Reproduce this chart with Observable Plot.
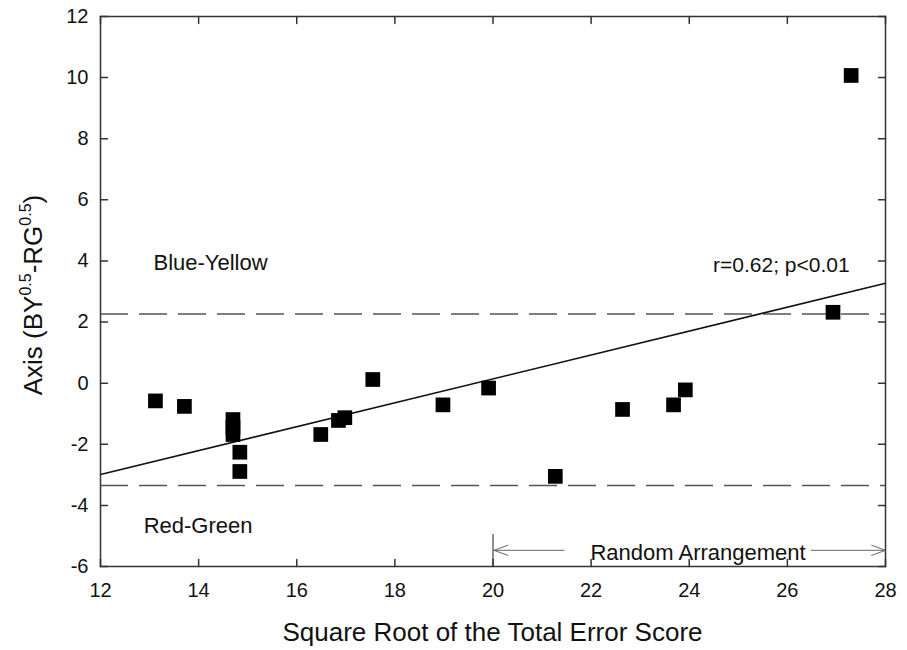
<!DOCTYPE html>
<html><head><meta charset="utf-8">
<script src="https://cdn.jsdelivr.net/npm/d3@7"></script>
<script src="https://cdn.jsdelivr.net/npm/@observablehq/plot@0.6"></script>
<style>body{margin:0;background:#fff;} #chart svg{display:block;}</style>
</head><body><div id="chart"></div>
<script>
// Data
const errorScore = [13.12, 13.71, 14.70, 14.70, 14.70, 14.84, 14.84, 16.49, 16.85, 16.98, 17.55, 18.98, 19.91, 21.27, 22.64, 23.68, 23.92, 26.93, 27.30];
const axisValue  = [-0.58, -0.76, -1.19, -1.45, -1.68, -2.26, -2.89, -1.68, -1.22, -1.13, 0.12, -0.71, -0.16, -3.05, -0.86, -0.71, -0.22, 2.32, 10.07];
const fitX = [12, 28];
const fitY = [-2.99, 3.27];
const thresholds = [2.26, -3.35];
const xTicks = [12, 14, 16, 18, 20, 22, 24, 26, 28];
const yTicks = [-6, -4, -2, 0, 2, 4, 6, 8, 10, 12];
const regionLabels = ["Blue-Yellow", "Red-Green"];
const regionX = [13.08, 12.88];
const regionY = [3.92, -4.66];
const statLabel = ["r=0.62; p<0.01"];
const statX = [27.27];
const statY = [3.85];
const randomLabel = ["Random Arrangement"];
const randomX = [24.18];
const randomY = [-5.57];
const arrowX1 = [21.45, 26.49];
const arrowX2 = [20.02, 28.0];
const arrowY = [-5.47, -5.47];
const bracketX = [20];
const bracketY1 = [-6];
const bracketY2 = [-4.95];

const points = errorScore.map((x, i) => ({x, y: axisValue[i]}));
const fit = fitX.map((x, i) => ({x, y: fitY[i]}));
const arrows = arrowX1.map((x1, i) => ({x1, x2: arrowX2[i], y: arrowY[i]}));
const regions = regionLabels.map((t, i) => ({t, x: regionX[i], y: regionY[i]}));
const bracket = bracketX.map((x, i) => ({x, y1: bracketY1[i], y2: bracketY2[i]}));

const tickShape = {draw(ctx, l) { ctx.moveTo(0, 0); ctx.lineTo(0, -l); }};
const tickOpts = {length: 7, anchor: "start", shape: tickShape, stroke: "#333", strokeWidth: 1.5};

const W = 907, H = 650;
const plot = Plot.plot({
  width: W, height: H,
  marginLeft: 100, marginRight: 22, marginTop: 16, marginBottom: 84,
  style: {fontFamily: "'Liberation Sans', Arial, sans-serif", color: "#111", background: "white"},
  x: {domain: [12, 28]},
  y: {domain: [-6, 12]},
  marks: [
    Plot.ruleY(thresholds, {stroke: "#555", strokeWidth: 1.5, strokeDasharray: "28,11"}),
    Plot.line(fit, {x: "x", y: "y", stroke: "#111", strokeWidth: 1.6}),
    Plot.dot(points, {x: "x", y: "y", symbol: "square", r: 8.3, fill: "#000", stroke: "none"}),
    Plot.ruleX(bracket, {x: "x", y1: "y1", y2: "y2", stroke: "#444", strokeWidth: 1.2}),
    Plot.arrow(arrows, {x1: "x1", x2: "x2", y1: "y", y2: "y", stroke: "#666", strokeWidth: 1, headLength: 22, headAngle: 40}),
    Plot.text(regions, {x: "x", y: "y", text: "t", textAnchor: "start", fontSize: 22, fill: "#111"}),
    Plot.text(statLabel, {x: () => statX[0], y: () => statY[0], text: d => d, textAnchor: "end", fontSize: 21, fill: "#111"}),
    Plot.text(randomLabel, {x: () => randomX[0], y: () => randomY[0], text: d => d, textAnchor: "middle", fontSize: 22, fill: "#111"}),
    Plot.axisX({ticks: xTicks, tickSize: 0, tickPadding: 16, fontSize: 20, label: null, tickFormat: d => String(d)}),
    Plot.axisY({ticks: yTicks, tickSize: 0, tickPadding: 12, fontSize: 20, label: null, tickFormat: d => String(d)}),
    Plot.vector(xTicks, {x: d => d, frameAnchor: "bottom", rotate: 0, ...tickOpts}),
    Plot.vector(xTicks, {x: d => d, frameAnchor: "top", rotate: 180, ...tickOpts}),
    Plot.vector(yTicks, {y: d => d, frameAnchor: "left", rotate: 90, ...tickOpts}),
    Plot.vector(yTicks, {y: d => d, frameAnchor: "right", rotate: -90, ...tickOpts}),
    Plot.frame({stroke: "#333", strokeWidth: 1.5})
  ]
});
document.getElementById("chart").appendChild(plot);

const svg = d3.select(plot);
const xr = plot.scale("x").range;
svg.append("text")
  .attr("x", (xr[0] + xr[1]) / 2).attr("y", H - 9)
  .attr("text-anchor", "middle")
  .attr("font-family", "'Liberation Sans', Arial, sans-serif")
  .attr("font-size", 26).attr("fill", "#111")
  .text("Square Root of the Total Error Score");

const yt = svg.append("text")
  .attr("transform", "translate(42,295) rotate(-90)")
  .attr("text-anchor", "middle")
  .attr("font-family", "'Liberation Sans', Arial, sans-serif")
  .attr("font-size", 26).attr("fill", "#111");
yt.append("tspan").text("Axis (BY");
yt.append("tspan").attr("dy", -11).attr("font-size", 16).text("0.5");
yt.append("tspan").attr("dy", 11).text("-RG");
yt.append("tspan").attr("dy", -11).attr("font-size", 16).text("0.5");
yt.append("tspan").attr("dy", 11).text(")");
</script>
</body></html>
